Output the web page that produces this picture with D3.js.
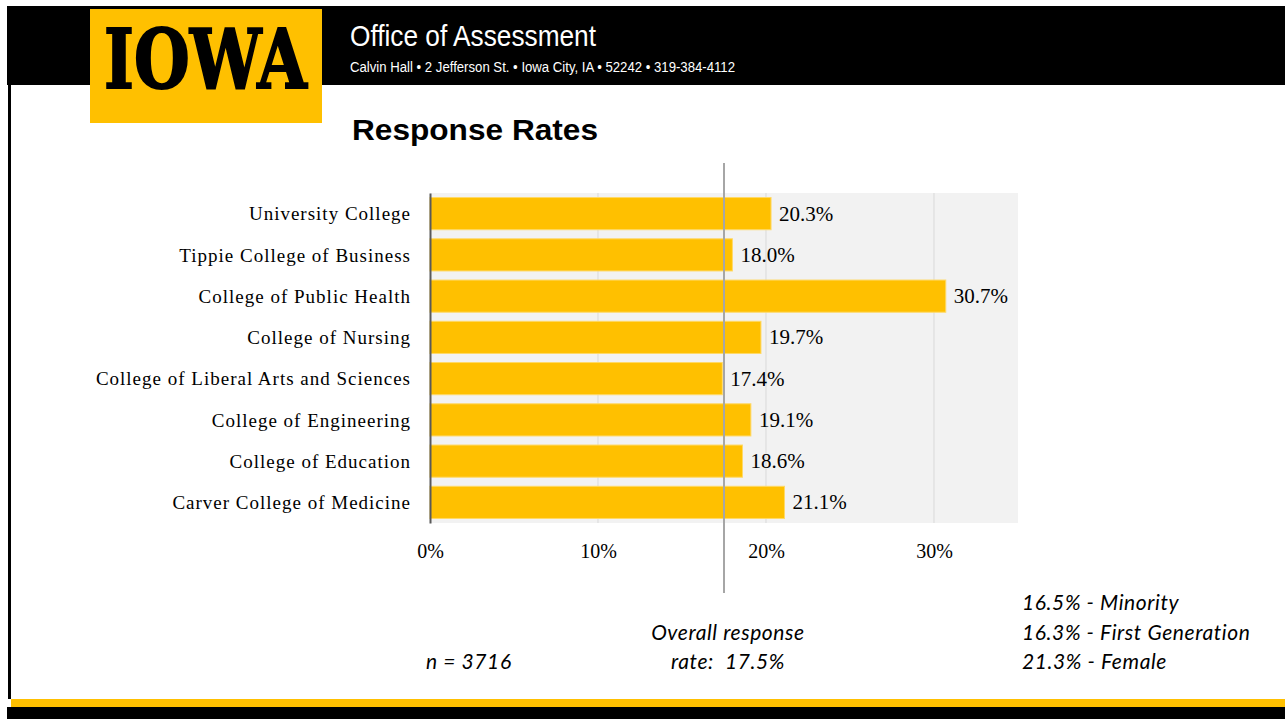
<!DOCTYPE html>
<html>
<head>
<meta charset="utf-8">
<script src="https://cdnjs.cloudflare.com/ajax/libs/d3/7.8.5/d3.min.js"></script>
<style>
  html, body { margin: 0; padding: 0; background: #fff; }
  svg { display: block; }
</style>
</head>
<body>
<div id="chart"></div>
<script>
// data
var colleges = [
    "University College",
    "Tippie College of Business",
    "College of Public Health",
    "College of Nursing",
    "College of Liberal Arts and Sciences",
    "College of Engineering",
    "College of Education",
    "Carver College of Medicine"
];
var rates = [20.3, 18.0, 30.7, 19.7, 17.4, 19.1, 18.6, 21.1];
var tickValues = [0, 10, 20, 30];
var overallRate = 17.5;
var sampleSize = 3716;
var groupRates = [16.5, 16.3, 21.3];
var groupNames = ["Minority", "First Generation", "Female"];

var W = 1285, H = 719,
    gold = "#FFC000";

var svg = d3.select("#chart").append("svg")
    .attr("width", W)
    .attr("height", H);

// --- page frame: header band, logo, left rule, footer bands
svg.append("rect").attr("x", 7).attr("y", 6).attr("width", W - 7).attr("height", 79).attr("fill", "#000");
svg.append("rect").attr("x", 8).attr("y", 85).attr("width", 3).attr("height", 614).attr("fill", "#000");
svg.append("rect").attr("x", 11).attr("y", 699).attr("width", W - 11).attr("height", 8).attr("fill", gold);
svg.append("rect").attr("x", 7).attr("y", 707).attr("width", W - 7).attr("height", 12).attr("fill", "#000");

svg.append("rect").attr("x", 90).attr("y", 9).attr("width", 232).attr("height", 114).attr("fill", gold);
svg.append("text")
    .attr("x", 104).attr("y", 88)
    .attr("textLength", 203).attr("lengthAdjust", "spacingAndGlyphs")
    .attr("font-family", "DejaVu Serif")
    .attr("font-weight", "bold")
    .attr("font-size", 82)
    .attr("fill", "#000")
    .attr("stroke", "#000").attr("stroke-width", 2)
    .text("IOWA");

svg.append("text")
    .attr("x", 350).attr("y", 46)
    .attr("textLength", 246).attr("lengthAdjust", "spacingAndGlyphs")
    .attr("font-family", "'Liberation Sans', Arial, sans-serif")
    .attr("font-size", 30)
    .attr("fill", "#fff")
    .text("Office of Assessment");
svg.append("text")
    .attr("x", 350).attr("y", 72)
    .attr("textLength", 385).attr("lengthAdjust", "spacingAndGlyphs")
    .attr("font-family", "'Liberation Sans', Arial, sans-serif")
    .attr("font-size", 14)
    .attr("fill", "#fff")
    .text("Calvin Hall \u2022 2 Jefferson St. \u2022 Iowa City, IA \u2022 52242 \u2022 319-384-4112");

svg.append("text")
    .attr("x", 352).attr("y", 140)
    .attr("textLength", 246).attr("lengthAdjust", "spacingAndGlyphs")
    .attr("font-family", "'Liberation Sans', Arial, sans-serif")
    .attr("font-weight", "bold")
    .attr("font-size", 29)
    .attr("fill", "#000")
    .text("Response Rates");

// --- bar chart
var plotL = 430, plotR = 1018, plotT = 193, plotB = 523;

var x = d3.scaleLinear().domain([0, 35]).range([plotL, plotR]);
var y = d3.scaleBand().domain(colleges).range([plotT, plotB]).paddingInner(0.22).paddingOuter(0.11);

var serif = "'Liberation Serif', 'Times New Roman', serif";

svg.append("rect")
    .attr("x", plotL).attr("y", plotT)
    .attr("width", plotR - plotL).attr("height", plotB - plotT)
    .attr("fill", "#f2f2f2");

svg.selectAll("line.grid")
    .data(tickValues.slice(1))
    .enter().append("line")
    .attr("class", "grid")
    .attr("x1", function (d) { return x(d); })
    .attr("x2", function (d) { return x(d); })
    .attr("y1", plotT).attr("y2", plotB)
    .attr("stroke", "#d9d9d9").attr("stroke-width", 1);

svg.selectAll("rect.bar")
    .data(rates)
    .enter().append("rect")
    .attr("class", "bar")
    .attr("x", x(0))
    .attr("y", function (d, i) { return y(colleges[i]); })
    .attr("width", function (d) { return x(d) - x(0); })
    .attr("height", y.bandwidth())
    .attr("fill", gold)
    .attr("stroke", "#ffd966").attr("stroke-width", 1);

svg.selectAll("text.val")
    .data(rates)
    .enter().append("text")
    .attr("class", "val")
    .attr("x", function (d) { return x(d) + 8; })
    .attr("y", function (d, i) { return y(colleges[i]) + y.bandwidth() / 2 + 7; })
    .attr("font-family", serif)
    .attr("font-size", 21)
    .attr("fill", "#000")
    .text(function (d) { return d.toFixed(1) + "%"; });

// category axis
var yAxis = svg.append("g")
    .attr("transform", "translate(" + plotL + ",0)")
    .call(d3.axisLeft(y).tickSize(0).tickPadding(19));
yAxis.select(".domain").attr("stroke", "#595959").attr("stroke-width", 2);
yAxis.selectAll("text")
    .attr("font-family", serif)
    .attr("font-size", 19)
    .attr("letter-spacing", 1)
    .attr("fill", "#000")
    .attr("dy", "0.35em");

// value axis
var xAxis = svg.append("g")
    .attr("transform", "translate(0," + plotB + ")")
    .call(d3.axisBottom(x).tickValues(tickValues).tickSize(0).tickPadding(21)
        .tickFormat(function (d) { return d + "%"; }));
xAxis.select(".domain").remove();
xAxis.selectAll("text")
    .attr("font-family", serif)
    .attr("font-size", 20)
    .attr("fill", "#000");

// overall response line
svg.append("line")
    .attr("x1", x(overallRate)).attr("x2", x(overallRate))
    .attr("y1", 163).attr("y2", 593)
    .attr("stroke", "#a6a6a6").attr("stroke-width", 2);

// --- notes
var note = "Lato, 'Open Sans', sans-serif";

function noteText(sel) {
    return sel.attr("font-family", note)
        .attr("font-style", "italic")
        .attr("font-size", 21)
        .attr("letter-spacing", 0.6)
        .attr("fill", "#000");
}

svg.append("text")
    .attr("x", 426).attr("y", 669)
    .call(noteText)
    .text("n = " + sampleSize);

svg.append("text")
    .attr("x", 728).attr("y", 640)
    .attr("text-anchor", "middle")
    .call(noteText)
    .text("Overall response");
svg.append("text")
    .attr("x", 728).attr("y", 669)
    .attr("text-anchor", "middle")
    .call(noteText)
    .attr("xml:space", "preserve")
    .text("rate:  " + overallRate.toFixed(1) + "%");

svg.selectAll("text.grp")
    .data(groupRates)
    .enter().append("text")
    .attr("class", "grp")
    .attr("x", 1022)
    .attr("y", function (d, i) { return 610 + i * 29.5; })
    .call(noteText)
    .text(function (d, i) { return d.toFixed(1) + "% - " + groupNames[i]; });
</script>
</body>
</html>
